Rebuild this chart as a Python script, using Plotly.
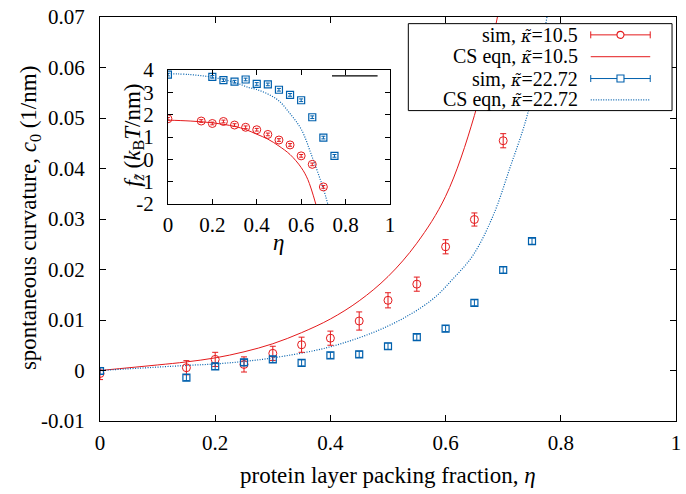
import plotly.graph_objects as go

# ---- simulation data: spontaneous curvature c0 vs packing fraction eta ----
eta_sim_a = [0, 0.15, 0.2, 0.25, 0.3, 0.35, 0.4, 0.45, 0.5, 0.55, 0.6, 0.65, 0.7]
c0_sim_a = [-0.0006, 0.00055, 0.0022, 0.0012, 0.0034, 0.0051, 0.0064, 0.0098,
            0.0139, 0.0171, 0.0245, 0.0299, 0.0455]
c0_err_a = [0.0012, 0.0014, 0.0014, 0.0015, 0.0014, 0.0015, 0.0014, 0.0018,
            0.0015, 0.0014, 0.0014, 0.0013, 0.0014]

eta_sim_b = [0, 0.15, 0.2, 0.25, 0.3, 0.35, 0.4, 0.45, 0.5, 0.55, 0.6, 0.65, 0.7, 0.75]
c0_sim_b = [-0.0001, -0.0014, 0.0008, 0.0016, 0.0022, 0.0015, 0.0030, 0.0032,
            0.0048, 0.0066, 0.0083, 0.0134, 0.0199, 0.0256]
c0_err_b = [0.0006] * 14

# ---- CS equation curves (main panel) ----
eta_cs_a = [0, 0.1, 0.15, 0.2, 0.25, 0.3, 0.35, 0.4, 0.45, 0.5, 0.55, 0.6, 0.65, 0.69]
c0_cs_a = [0, 0.0011, 0.0017, 0.0025, 0.0037, 0.0053, 0.0075, 0.0102, 0.0138,
           0.0186, 0.0252, 0.0345, 0.0505, 0.07]
eta_cs_b = [0, 0.15, 0.2, 0.25, 0.3, 0.4, 0.5, 0.574, 0.614, 0.648, 0.683, 0.711, 0.743, 0.776]
c0_cs_b = [0, 0.001, 0.0013, 0.0018, 0.0025, 0.0047, 0.0088, 0.0138, 0.0183,
           0.0229, 0.0308, 0.0399, 0.0511, 0.07]

# ---- inset: f_z vs eta ----
eta_in_a = [0, 0.15, 0.2, 0.25, 0.3, 0.35, 0.4, 0.45, 0.5, 0.55, 0.6, 0.65, 0.7]
fz_in_a = [1.82, 1.72, 1.61, 1.70, 1.54, 1.44, 1.33, 1.12, 0.87, 0.65, 0.16, -0.22, -1.23]
eta_in_b = [0, 0.2, 0.25, 0.3, 0.35, 0.4, 0.45, 0.5, 0.55, 0.6, 0.65, 0.7, 0.75]
fz_in_b = [3.80, 3.70, 3.55, 3.48, 3.58, 3.38, 3.36, 3.12, 2.89, 2.65, 1.89, 0.98, 0.16]
fz_err = 0.06

eta_in_cs_a = [0, 0.1, 0.2, 0.3, 0.35, 0.4, 0.45, 0.5, 0.55, 0.6, 0.63, 0.666]
fz_in_cs_a = [1.76, 1.72, 1.64, 1.48, 1.34, 1.13, 0.91, 0.6, 0.22, -0.36, -0.9, -2.0]
eta_in_cs_b = [0, 0.1, 0.2, 0.3, 0.364, 0.4, 0.45, 0.5, 0.55, 0.6, 0.65, 0.7, 0.72]
fz_in_cs_b = [3.84, 3.8, 3.68, 3.45, 3.22, 3.13, 2.93, 2.62, 2.05, 1.36, 0.1, -1.31, -2.0]

x_ticks = [0, 0.2, 0.4, 0.6, 0.8, 1]
x_ticktext = ["0", "0.2", "0.4", "0.6", "0.8", "1"]
y_ticks = [-0.01, 0, 0.01, 0.02, 0.03, 0.04, 0.05, 0.06, 0.07]
y_ticktext = ["-0.01", "0", "0.01", "0.02", "0.03", "0.04", "0.05", "0.06", "0.07"]
yin_ticks = [-2, -1, 0, 1, 2, 3, 4]
yin_ticktext = ["-2", "-1", "0", "1", "2", "3", "4"]

KAPPA = '<span style="font-family:DejaVu Serif;font-size:16px"><i>κ̃</i></span>'
legend_labels = ["sim, " + KAPPA + "=10.5", "CS eqn, " + KAPPA + "=10.5",
                 "sim, " + KAPPA + "=22.72", "CS eqn, " + KAPPA + "=22.72"]

RED = "#e41a1c"
BLUE = "#0060ad"
FONT = "Liberation Serif"

W, H = 686, 494
L, R, T, B = 100, 681, 14, 421  # plot frame in pixels


def px(xp):
    return (xp - L) / (R - L)


def py(yp):
    return (B - yp) / (B - T)


fig = go.Figure()

# main panel
fig.add_trace(go.Scatter(x=eta_cs_a, y=c0_cs_a, mode="lines", line_shape="spline",
                         line=dict(color=RED, width=1), showlegend=False))
fig.add_trace(go.Scatter(x=eta_cs_b, y=c0_cs_b, mode="lines", line_shape="spline",
                         line=dict(color=BLUE, width=1.2, dash="1px,1.5px"), showlegend=False))
fig.add_trace(go.Scatter(x=eta_sim_a, y=c0_sim_a, mode="markers",
                         marker=dict(symbol="circle-open", size=8, color=RED, line=dict(width=1)),
                         error_y=dict(type="data", array=c0_err_a, color=RED, thickness=1, width=3),
                         showlegend=False))
fig.add_trace(go.Scatter(x=eta_sim_b, y=c0_sim_b, mode="markers",
                         marker=dict(symbol="square-open", size=7, color=BLUE, line=dict(width=1.2)),
                         error_y=dict(type="data", array=c0_err_b, color=BLUE, thickness=1, width=3),
                         showlegend=False))

# inset panel
fig.add_trace(go.Scatter(x=eta_in_cs_a, y=fz_in_cs_a, mode="lines", line_shape="spline",
                         line=dict(color=RED, width=1), xaxis="x2", yaxis="y2", showlegend=False))
fig.add_trace(go.Scatter(x=eta_in_cs_b, y=fz_in_cs_b, mode="lines", line_shape="spline",
                         line=dict(color=BLUE, width=1.2, dash="1px,1.5px"), xaxis="x2", yaxis="y2",
                         showlegend=False))
fig.add_trace(go.Scatter(x=eta_in_a, y=fz_in_a, mode="markers",
                         marker=dict(symbol="circle-open", size=8, color=RED, line=dict(width=1)),
                         error_y=dict(type="constant", value=fz_err, color=RED, thickness=1, width=2),
                         xaxis="x2", yaxis="y2", showlegend=False))
fig.add_trace(go.Scatter(x=eta_in_b, y=fz_in_b, mode="markers",
                         marker=dict(symbol="square-open", size=7, color=BLUE, line=dict(width=1.2)),
                         error_y=dict(type="constant", value=fz_err, color=BLUE, thickness=1, width=2),
                         xaxis="x2", yaxis="y2", showlegend=False))

axis_common = dict(showline=True, linecolor="black", linewidth=1, mirror="allticks",
                   ticks="inside", tickcolor="black", showgrid=False, zeroline=False,
                   tickfont=dict(family=FONT, size=21, color="black"))

fig.update_layout(
    width=W, height=H,
    margin=dict(l=L, r=W - R, t=T, b=H - B),
    paper_bgcolor="white", plot_bgcolor="white",
    font=dict(family=FONT, size=21, color="black"),
    xaxis=dict(domain=[0, 1], range=[0, 1], tickvals=x_ticks, ticktext=x_ticktext,
               ticklen=6, ticklabelstandoff=3, **axis_common),
    yaxis=dict(domain=[0, 1], range=[-0.01, 0.07], tickvals=y_ticks, ticktext=y_ticktext,
               ticklen=6, ticklabelstandoff=10, **axis_common),
    xaxis2=dict(domain=[px(168.5), px(392.5)], anchor="y2", range=[0, 1],
                tickvals=x_ticks, ticktext=x_ticktext, ticklen=5, ticklabelstandoff=2,
                **axis_common),
    yaxis2=dict(domain=[py(202.5), py(67.5)], anchor="x2", range=[-2, 4],
                tickvals=yin_ticks, ticktext=yin_ticktext, ticklen=5, ticklabelstandoff=9,
                **axis_common),
)

shapes = []
annotations = []
TITLE_FONT = dict(family=FONT, size=23, color="black")

# axis titles
annotations.append(dict(text="protein layer packing fraction, <i>η</i>", xref="paper", yref="paper",
                        x=0.5, y=py(476), xanchor="center", yanchor="middle", showarrow=False,
                        font=TITLE_FONT))
annotations.append(dict(text="spontaneous curvature, <i>c</i><sub>0</sub> (1/nm)", xref="paper",
                        yref="paper", x=px(29), y=py(217), xanchor="center", yanchor="middle",
                        textangle=-90, showarrow=False, font=TITLE_FONT))
annotations.append(dict(text="<i>η</i>", xref="paper", yref="paper", x=px(280.5), y=py(241),
                        xanchor="center", yanchor="middle", showarrow=False, font=TITLE_FONT))
annotations.append(dict(text="<i>f</i><sub><i>z̃</i></sub> (<i>k</i><sub>B</sub><i>T</i>/nm)",
                        xref="paper", yref="paper", x=px(134), y=py(133), xanchor="center",
                        yanchor="middle", textangle=-90, showarrow=False, font=TITLE_FONT))

# inset key line
shapes.append(dict(type="line", xref="paper", yref="paper", x0=px(334), x1=px(380),
                   y0=py(73.3), y1=py(73.3), line=dict(color="black", width=1.2), layer="above"))

# legend box
shapes.append(dict(type="rect", xref="paper", yref="paper", x0=px(411), x1=px(677),
                   y0=py(108.3), y1=py(20.7), fillcolor="white",
                   line=dict(color="black", width=1), layer="above"))

row_y = [32, 54, 76, 97.5]
row_color = [RED, RED, BLUE, BLUE]
row_kind = ["err_circle", "solid", "err_square", "dot"]
for label, yrow, col, kind in zip(legend_labels, row_y, row_color, row_kind):
    annotations.append(dict(text=label, xref="paper", yref="paper", x=px(583), y=py(yrow),
                            xanchor="right", yanchor="middle", showarrow=False, borderpad=0,
                            font=dict(family=FONT, size=20, color="black")))
    if kind == "dot":
        line_style = dict(color=col, width=1.2, dash="1px,1.5px")
    else:
        line_style = dict(color=col, width=1)
    shapes.append(dict(type="line", xref="paper", yref="paper", x0=px(595), x1=px(655),
                       y0=py(yrow), y1=py(yrow), line=line_style, layer="above"))
    if kind.startswith("err"):
        for xc in (595, 655):
            shapes.append(dict(type="line", xref="paper", yref="paper", x0=px(xc), x1=px(xc),
                               y0=py(yrow - 3.5), y1=py(yrow + 3.5),
                               line=dict(color=col, width=1), layer="above"))
        shapes.append(dict(type="circle" if kind == "err_circle" else "rect",
                           xref="paper", yref="paper", xsizemode="pixel", ysizemode="pixel",
                           xanchor=px(625), yanchor=py(yrow), x0=-3.5, x1=3.5, y0=-3.5, y1=3.5,
                           fillcolor="white", line=dict(color=col, width=1.1), layer="above"))

fig.update_layout(shapes=shapes, annotations=annotations)

fig.write_html("out.html")
